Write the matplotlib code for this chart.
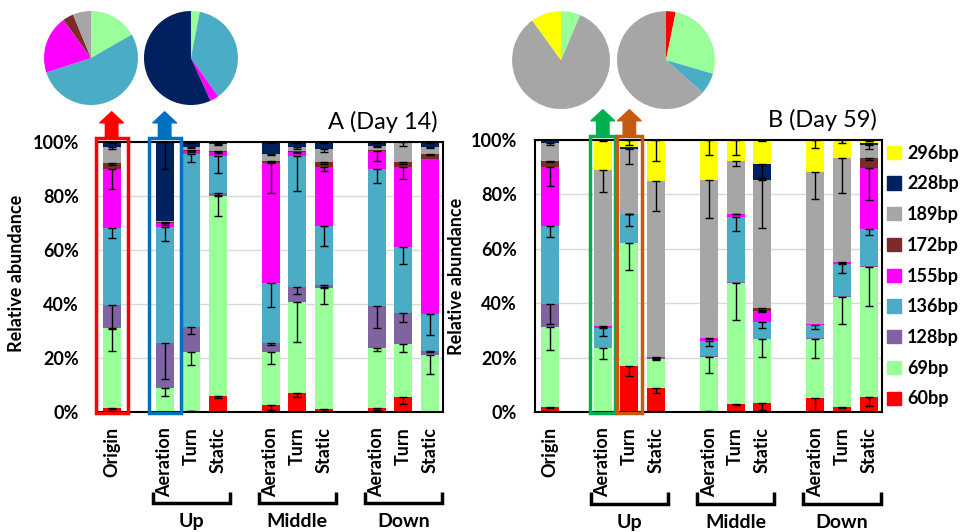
import numpy as np
import matplotlib.pyplot as plt
from matplotlib import patches, transforms

plt.rcParams['font.family'] = ['Lato', 'DejaVu Sans']

# fragment sizes, bottom of the stack first
sizes = ['60bp', '69bp', '128bp', '136bp', '155bp', '172bp', '189bp', '228bp', '296bp']
colors = ['#FF0000', '#99FF99', '#8064A2', '#4BACC6', '#FF00FF',
          '#7B2C2A', '#A6A6A6', '#002060', '#FFFF00']

samples = ['Origin', 'Aeration', 'Turn', 'Static', 'Aeration', 'Turn', 'Static',
           'Aeration', 'Turn', 'Static']
xpos = [0, 2, 3, 4, 6, 7, 8, 10, 11, 12]
groups = ['Up', 'Middle', 'Down']
group_x = [3, 7, 11]

# Day 14 relative abundance (%)
d14_60 = [1.5, 0.3, 0.5, 6.0, 2.6, 6.9, 1.0, 1.4, 5.7, 0.2]
d14_69 = [29.5, 8.5, 21.8, 74.1, 19.7, 34.0, 44.8, 22.2, 19.4, 20.9]
d14_128 = [8.5, 16.6, 9.3, 0.9, 3.4, 5.5, 1.1, 15.8, 11.7, 1.6]
d14_136 = [28.5, 43.2, 64.0, 13.9, 22.0, 48.5, 22.1, 50.5, 24.4, 13.5]
d14_155 = [22.0, 1.3, 1.1, 1.4, 44.4, 1.5, 21.9, 6.8, 29.7, 57.4]
d14_172 = [2.1, 0.6, 0.3, 0.2, 0.9, 0.1, 1.6, 0.2, 1.6, 2.0]
d14_189 = [6.2, 0.2, 1.3, 2.8, 2.6, 1.5, 4.9, 1.6, 7.5, 2.7]
d14_228 = [1.7, 29.3, 1.7, 0.7, 4.4, 2.0, 2.6, 1.5, 0.0, 1.7]
d14_296 = [0, 0, 0, 0, 0, 0, 0, 0, 0, 0]

# Day 14 error (%)
e14_60 = [0.5, 0, 0.3, 0.8, 1.8, 1.2, 0.5, 0.8, 2.7, 0]
e14_69 = [8.4, 3.0, 5.0, 7.5, 4.7, 15.0, 5.8, 0.9, 2.7, 7.0]
e14_128 = [8.6, 13.0, 2.7, 0.5, 0.9, 2.7, 0.5, 8.4, 3.3, 0.5]
e14_136 = [3.6, 5.3, 3.0, 6.5, 8.9, 13.0, 7.4, 5.2, 6.4, 7.7]
e14_155 = [7.3, 0.5, 0.5, 0.5, 11.0, 0.5, 1.5, 3.6, 4.7, 0]
e14_172 = [0.5, 0.5, 0.5, 0.5, 0.5, 0, 0.5, 0, 0.5, 0.5]
e14_189 = [1.0, 0, 0.5, 0.5, 0.5, 0.5, 1.2, 0.5, 1.4, 0.5]
e14_228 = [0.5, 10.0, 0.5, 0.5, 0.5, 0.5, 0.5, 0.5, 0, 0.5]
e14_296 = [0, 0, 0, 0, 0, 0, 0, 0, 0, 0]

# Day 59 relative abundance (%)
d59_60 = [1.8, 0.2, 16.9, 8.9, 0.4, 2.9, 3.2, 5.0, 1.7, 5.4]
d59_69 = [29.3, 23.2, 45.1, 10.6, 19.9, 44.4, 23.6, 21.8, 40.7, 48.0]
d59_128 = [8.7, 0.2, 0.2, 0.2, 0.2, 0.6, 0.2, 0.3, 0.3, 0.3]
d59_136 = [28.6, 7.2, 10.6, 0.3, 5.7, 23.7, 6.0, 4.9, 11.7, 13.5]
d59_155 = [21.8, 0.8, 0.2, 0.3, 0.9, 1.4, 4.1, 0.2, 0.7, 22.6]
d59_172 = [2.1, 0.2, 0, 0, 0, 0, 1.0, 0, 0, 3.5]
d59_189 = [6.5, 57.2, 23.9, 64.7, 58.4, 19.4, 47.4, 56.2, 38.5, 4.9]
d59_228 = [1.2, 0, 0.4, 0, 0, 0, 5.9, 0, 0, 0.6]
d59_296 = [0, 11.0, 2.7, 15.0, 14.5, 7.6, 8.6, 11.6, 6.4, 1.2]

# Day 59 error (%)
e59_60 = [0.3, 0, 3.5, 2.1, 0.3, 0.5, 2.5, 4.9, 0.3, 3.2]
e59_69 = [8.2, 4.0, 9.6, 0.5, 6.0, 13.5, 6.5, 6.9, 10.2, 14.5]
e59_128 = [7.3, 0, 0, 0, 0, 0, 0, 0, 0, 0]
e59_136 = [3.9, 2.8, 4.3, 0.3, 2.0, 5.0, 2.2, 1.5, 3.2, 2.0]
e59_155 = [7.1, 0.3, 0.2, 0.3, 0.3, 0.3, 0.5, 0, 0.3, 12.0]
e59_172 = [0.5, 0, 0, 0, 0, 0, 0.5, 0, 0, 0.5]
e59_189 = [0.6, 8.2, 5.8, 11.0, 14.0, 1.8, 17.8, 10.0, 13.2, 1.5]
e59_228 = [0, 0, 0, 0, 0, 0, 5.5, 0, 0, 0.3]
e59_296 = [0, 0.5, 1.8, 7.6, 5.3, 5.5, 0.3, 3.0, 1.0, 0.3]

# pie charts above the highlighted samples
pie_a1 = [16.7, 53.3, 20.0, 3.75, 6.25]
pie_a1_col = ['#99FF99', '#4BACC6', '#FF00FF', '#7B2C2A', '#A6A6A6']
pie_a2 = [3.0, 37.2, 3.0, 56.8]
pie_a2_col = ['#99FF99', '#4BACC6', '#FF00FF', '#002060']
pie_b1 = [6.4, 83.6, 10.0]
pie_b1_col = ['#99FF99', '#A6A6A6', '#FFFF00']
pie_b2 = [3.2, 26.3, 7.1, 63.4]
pie_b2_col = ['#FF0000', '#99FF99', '#4BACC6', '#A6A6A6']

day14 = [d14_60, d14_69, d14_128, d14_136, d14_155, d14_172, d14_189, d14_228, d14_296]
err14 = [e14_60, e14_69, e14_128, e14_136, e14_155, e14_172, e14_189, e14_228, e14_296]
day59 = [d59_60, d59_69, d59_128, d59_136, d59_155, d59_172, d59_189, d59_228, d59_296]
err59 = [e59_60, e59_69, e59_128, e59_136, e59_155, e59_172, e59_189, e59_228, e59_296]


def draw_panel(ax, values, errors, title, boxes):
    x = np.array(xpos, dtype=float)
    bottom = np.zeros(len(x))
    for vals, errs, col in zip(values, errors, colors):
        vals = np.array(vals, dtype=float)
        errs = np.array(errs, dtype=float)
        ax.bar(x, vals, width=0.68, bottom=bottom, color=col, zorder=2)
        top = bottom + vals
        m = (errs > 0) & (vals > 0)
        if m.any():
            ax.errorbar(x[m], top[m], yerr=[errs[m], np.zeros(m.sum())], fmt='none',
                        ecolor='black', elinewidth=1, capsize=3, capthick=1, zorder=3)
        bottom = top

    ax.set_xlim(-0.55, 12.5)
    ax.set_ylim(0, 100)
    ax.set_yticks(range(0, 101, 20))
    ax.set_yticklabels([f'{v}%' for v in range(0, 101, 20)], fontweight='bold', fontsize=13)
    ax.set_xticks(xpos)
    ax.set_xticklabels(samples, rotation=90, fontweight='bold', fontsize=13)
    ax.tick_params(axis='y', length=0, pad=13)
    ax.tick_params(axis='x', length=0, pad=11)
    ax.yaxis.grid(True, color='#D9D9D9', lw=1)
    ax.set_axisbelow(True)
    for s in ax.spines.values():
        s.set_linewidth(1.5)
    ax.set_ylabel('Relative abundance', fontweight='bold', fontsize=13)

    trans = transforms.blended_transform_factory(ax.transData, ax.transAxes)
    for g, c in zip(groups, group_x):
        ax.plot([c - 1.45, c - 1.45, c + 1.45, c + 1.45], [-0.296, -0.337, -0.337, -0.296],
                transform=trans, color='black', lw=2.5, clip_on=False,
                solid_joinstyle='miter', solid_capstyle='butt')
        ax.text(c, -0.405, g, transform=trans, ha='center', va='center',
                fontweight='bold', fontsize=14)

    ax.text(0.985, 1.035, title, transform=ax.transAxes, ha='right', va='bottom', fontsize=17)

    # highlighted bars with arrows up to the pies
    for bx, half, col in boxes:
        ax.add_patch(patches.Rectangle((bx - half, -0.5), 2 * half, 102, fill=False,
                                       edgecolor=col, lw=2.5, clip_on=False, zorder=5))
        ax.annotate('', xy=(bx, 1.112), xytext=(bx, 1.012), xycoords=trans, textcoords=trans,
                    arrowprops=dict(arrowstyle='simple,head_length=8,head_width=17,tail_width=9',
                                    color=col, shrinkA=0, shrinkB=0, mutation_scale=1),
                    annotation_clip=False)


fig = plt.figure(figsize=(9.61, 5.32), dpi=100)
ax1 = fig.add_axes([0.101, 0.2256, 0.360, 0.5075])
ax2 = fig.add_axes([0.5567, 0.2256, 0.361, 0.511])

draw_panel(ax1, day14, err14, 'A (Day 14)', [(0, 0.6, '#FF0000'), (2, 0.6, '#0070C0')])
draw_panel(ax2, day59, err59, 'B (Day 59)', [(2, 0.47, '#00B050'), (3, 0.47, '#C55A11')])
ax1.yaxis.set_label_coords(-0.208, 0.515)
ax2.yaxis.set_label_coords(-0.202, 0.5)

handles = [patches.Patch(color=c) for c in colors[::-1]]
ax2.legend(handles, sizes[::-1], loc='center left', bbox_to_anchor=(1.0, 0.5), frameon=False,
           prop=dict(weight='bold', size=13), handlelength=0.75, handleheight=0.75,
           handletextpad=0.35, labelspacing=0.76, borderaxespad=0, borderpad=0.3)

pies = [
    ([0.0458, 0.8026, 0.0978, 0.1767], pie_a1, pie_a1_col),
    ([0.1498, 0.8026, 0.0978, 0.1767], pie_a2, pie_a2_col),
    ([0.5328, 0.795, 0.102, 0.184], pie_b1, pie_b1_col),
    ([0.642, 0.795, 0.102, 0.184], pie_b2, pie_b2_col),
]
for rect, vals, cols in pies:
    pax = fig.add_axes(rect)
    pax.pie(vals, colors=cols, startangle=90, counterclock=False,
            wedgeprops=dict(linewidth=0))
    pax.set_xlim(-1.0, 1.0)
    pax.set_ylim(-1.0, 1.0)
    pax.set_aspect('equal')
    pax.axis('off')

fig.savefig('out.png', dpi=100)
